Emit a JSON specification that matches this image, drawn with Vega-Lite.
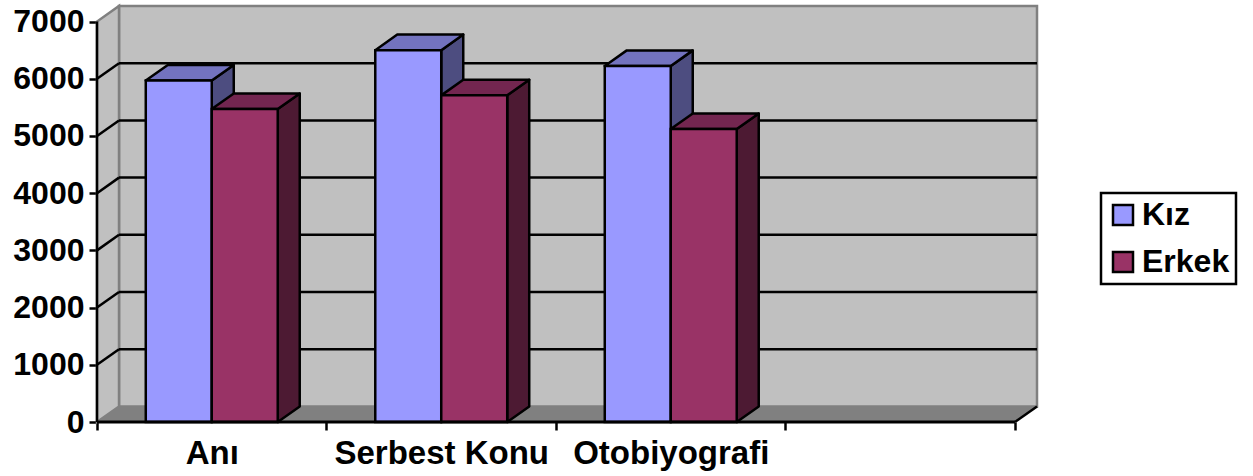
{
"$schema":"https://vega.github.io/schema/vega-lite/v6.json",
"width":940,"height":416,
"autosize":{"type":"none"},
"padding":{"left":97,"top":6,"right":216,"bottom":54},
"background":"white",
"config":{"view":{"stroke":null},"legend":{"strokeWidth":2.5}},
"datasets":{
"bars":[
{"category":"Anı","series":"Kız","value":5970},
{"category":"Anı","series":"Erkek","value":5470},
{"category":"Serbest Konu","series":"Kız","value":6500},
{"category":"Serbest Konu","series":"Erkek","value":5710},
{"category":"Otobiyografi","series":"Kız","value":6224},
{"category":"Otobiyografi","series":"Erkek","value":5122}
],
"ticks":[{"v":1000},{"v":2000},{"v":3000},{"v":4000},{"v":5000},{"v":6000}],
"one":[{"a":0}]
},
"data":{"name":"bars"},
"resolve":{"scale":{"color":"independent"}},
"layer":[
{"data":{"name":"one"},
 "mark":{"type":"rect","fill":"#C0C0C0","stroke":"#808080","strokeWidth":2.5},
 "encoding":{
  "x":{"datum":0.0959,"type":"quantitative","scale":{"domain":[0,4.0959],"nice":false,"zero":false},
   "axis":{"title":null,"grid":false,"domain":false,"values":[0,0.5,1,1.5,2,2.5,3,3.5,4],
    "labelExpr":"datum.value==0.5?'Anı':datum.value==1.5?'Serbest Konu':datum.value==2.5?'Otobiyografi':''",
    "tickSize":{"condition":{"test":"datum.value%1===0","value":8},"value":0},
    "tickWidth":2.5,"tickColor":"black","labelOverlap":false,"labelFlush":false,"labelPadding":15,"labelLimit":400,
    "labelFont":"Liberation Sans","labelFontWeight":"bold","labelFontSize":33,"labelColor":"black"}},
  "x2":{"datum":4.0959},
  "y":{"datum":272,"type":"quantitative","scale":{"domain":[0,7272],"nice":false,"zero":false},
   "axis":{"title":null,"grid":false,"domain":false,"values":[0,1000,2000,3000,4000,5000,6000,7000],"format":"d",
    "tickSize":8,"tickWidth":2.5,"tickColor":"black","labelPadding":5,
    "labelFont":"Liberation Sans","labelFontWeight":"bold","labelFontSize":32,"labelColor":"black"}},
  "y2":{"datum":7272}
 }},
{"data":{"values":[{"x":0,"lo":0,"hi":7000},{"x":0.0959,"lo":272,"hi":7272}]},
 "mark":{"type":"area","fill":"#C0C0C0","stroke":"#808080","strokeWidth":2.5},
 "encoding":{"x":{"field":"x","type":"quantitative"},"y":{"field":"lo","type":"quantitative"},"y2":{"field":"hi"}}},
{"data":{"values":[{"y":0,"a":0,"b":4},{"y":272,"a":0.0959,"b":4.0959}]},
 "mark":{"type":"area","orient":"horizontal","fill":"#808080"},
 "encoding":{"y":{"field":"y","type":"quantitative"},"x":{"field":"a","type":"quantitative"},"x2":{"field":"b"}}},
{"data":{"name":"ticks"},
 "transform":[{"calculate":"datum.v+272","as":"w"}],
 "mark":{"type":"rule","color":"black","strokeWidth":2.5},
 "encoding":{"x":{"datum":0.0959,"type":"quantitative"},"x2":{"datum":4.0959},"y":{"field":"w","type":"quantitative"}}},
{"data":{"name":"ticks"},
 "transform":[{"calculate":"datum.v+272","as":"w"}],
 "mark":{"type":"rule","color":"black","strokeWidth":2.5},
 "encoding":{"x":{"datum":0,"type":"quantitative"},"x2":{"datum":0.0959},"y":{"field":"v","type":"quantitative"},"y2":{"field":"w"}}},
{"data":{"name":"one"},
 "mark":{"type":"rule","color":"black","strokeWidth":2.5},
 "encoding":{"x":{"datum":0,"type":"quantitative"},"y":{"datum":0,"type":"quantitative"},"y2":{"datum":7000}}},
{"data":{"name":"one"},
 "mark":{"type":"rule","color":"black","strokeWidth":2.5},
 "encoding":{"x":{"datum":4,"type":"quantitative"},"x2":{"datum":4.0959},"y":{"datum":0,"type":"quantitative"},"y2":{"datum":272}}},
{"transform":[
  {"calculate":"indexof(['Anı','Serbest Konu','Otobiyografi'],datum.category)+0.2125+(datum.series=='Kız'?0:0.2875)","as":"x0"},
  {"calculate":"datum.x0+0.2875","as":"x1"},
  {"calculate":"datum.category+datum.series","as":"id"},
  {"calculate":"[0,1]","as":"k"},{"flatten":["k"]},
  {"calculate":"datum.x1+datum.k*0.0959","as":"sx"},
  {"calculate":"datum.k*272","as":"lo"},
  {"calculate":"datum.value+datum.k*272","as":"hi"}],
 "mark":{"type":"area","stroke":"black","strokeWidth":2.5,"strokeJoin":"round"},
 "encoding":{"x":{"field":"sx","type":"quantitative"},"y":{"field":"lo","type":"quantitative"},"y2":{"field":"hi"},
  "detail":{"field":"id"},
  "color":{"field":"series","type":"nominal","legend":null,"scale":{"domain":["Kız","Erkek"],"range":["#4D4D80","#4D1A33"]}}}},
{"transform":[
  {"calculate":"indexof(['Anı','Serbest Konu','Otobiyografi'],datum.category)+0.2125+(datum.series=='Kız'?0:0.2875)","as":"x0"},
  {"calculate":"datum.x0+0.2875","as":"x1"},
  {"calculate":"datum.category+datum.series","as":"id"},
  {"calculate":"[0,1]","as":"k"},{"flatten":["k"]},
  {"calculate":"datum.x0+datum.k*0.0959","as":"ta"},
  {"calculate":"datum.x1+datum.k*0.0959","as":"tb"},
  {"calculate":"datum.value+datum.k*272","as":"ty"}],
 "mark":{"type":"area","orient":"horizontal","stroke":"black","strokeWidth":2.5,"strokeJoin":"round"},
 "encoding":{"y":{"field":"ty","type":"quantitative"},"x":{"field":"ta","type":"quantitative"},"x2":{"field":"tb"},
  "detail":{"field":"id"},
  "color":{"field":"series","type":"nominal","legend":null,"scale":{"domain":["Kız","Erkek"],"range":["#7373BF","#732650"]}}}},
{"transform":[
  {"calculate":"indexof(['Anı','Serbest Konu','Otobiyografi'],datum.category)+0.2125+(datum.series=='Kız'?0:0.2875)","as":"x0"},
  {"calculate":"datum.x0+0.2875","as":"x1"}],
 "mark":{"type":"rect","stroke":"black","strokeWidth":2.5},
 "encoding":{"x":{"field":"x0","type":"quantitative"},"x2":{"field":"x1"},"y":{"field":"value","type":"quantitative"},"y2":{"datum":0},
  "color":{"field":"series","type":"nominal","sort":null,
   "scale":{"domain":["Kız","Erkek"],"range":["#9999FF","#993366"]},
   "legend":{"title":null,"orient":"none","legendX":1004,"legendY":187,"padding":6,"strokeColor":"black",
    "symbolType":"square","symbolSize":400,"symbolStrokeColor":"black","symbolStrokeWidth":2.5,"symbolOpacity":1,
    "labelFont":"Liberation Sans","labelFontWeight":"bold","labelFontSize":32,"labelColor":"black","labelOffset":3,"rowPadding":15,"labelLimit":200}}}},
{"data":{"name":"one"},
 "mark":{"type":"rule","color":"black","strokeWidth":3},
 "encoding":{"x":{"datum":0,"type":"quantitative"},"x2":{"datum":4},"y":{"datum":0,"type":"quantitative"}}}
]
}
